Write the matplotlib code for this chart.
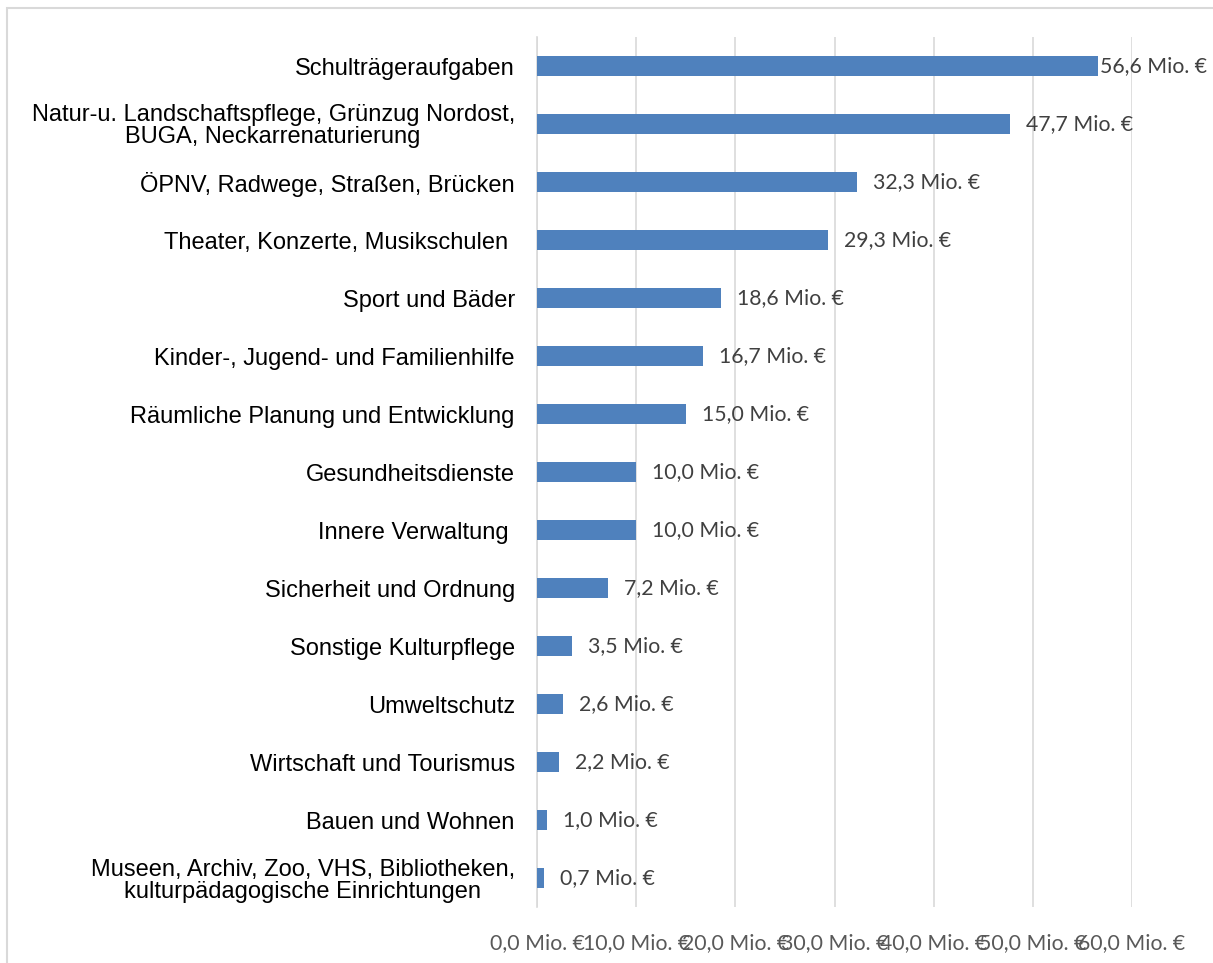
import matplotlib
matplotlib.use("Agg")
import matplotlib.pyplot as plt
from matplotlib.patches import Rectangle

categories = [
    "Schulträgeraufgaben",
    "Natur-u. Landschaftspflege, Grünzug Nordost,\nBUGA, Neckarrenaturierung",
    "ÖPNV, Radwege, Straßen, Brücken",
    "Theater, Konzerte, Musikschulen ",
    "Sport und Bäder",
    "Kinder-, Jugend- und Familienhilfe",
    "Räumliche Planung und Entwicklung",
    "Gesundheitsdienste",
    "Innere Verwaltung ",
    "Sicherheit und Ordnung",
    "Sonstige Kulturpflege",
    "Umweltschutz",
    "Wirtschaft und Tourismus",
    "Bauen und Wohnen",
    "Museen, Archiv, Zoo, VHS, Bibliotheken,\nkulturpädagogische Einrichtungen",
]
values = [56.6, 47.7, 32.3, 29.3, 18.6, 16.7, 15.0, 10.0, 10.0, 7.2, 3.5, 2.6, 2.2, 1.0, 0.7]
x_ticks = [0, 10, 20, 30, 40, 50, 60]

def fmt(v):
    return f"{v:.1f}".replace(".", ",") + " Mio. €"

W, H = 1213, 963
fig = plt.figure(figsize=(W / 100, H / 100), dpi=100)
fig.patch.set_facecolor("white")
fig.add_artist(Rectangle((7 / W, -0.1), 1.2, (1 - 8 / H) + 0.1, transform=fig.transFigure,
                         fill=False, edgecolor="#D9D9D9", linewidth=1.5))

left, right, top, bottom = 537 / W, 1132 / W, 1 - 37 / H, 1 - 907 / H
ax = fig.add_axes([left, bottom, right - left, top - bottom])

y = list(range(len(categories)))
ax.barh(y, values, height=0.35, color="#4F81BD", zorder=3)
ax.set_ylim(len(categories) - 0.5, -0.5)
ax.set_xlim(0, 60)
ax.set_xticks(x_ticks)
ax.set_xticklabels([fmt(t) for t in x_ticks], fontfamily="Lato", fontsize=15.3, color="#595959")
ax.set_yticks(y)
ax.set_yticklabels(categories, fontfamily="Liberation Sans", fontsize=17, color="black",
                   linespacing=1.0, multialignment="center")
ax.tick_params(axis="both", length=0)
ax.tick_params(axis="x", pad=19)
ax.tick_params(axis="y", pad=16)
ax.grid(axis="x", color="#D9D9D9", linewidth=1.2, zorder=0)
for s in ["top", "right", "bottom"]:
    ax.spines[s].set_visible(False)
ax.spines["left"].set_color("#D9D9D9")
ax.spines["left"].set_linewidth(1.2)

for i, v in enumerate(values):
    off = 2 if i == 0 else 16
    ax.annotate(fmt(v), (v, i), xytext=(off * 0.72, 0), textcoords="offset points",
                va="center", ha="left", fontfamily="Lato", fontsize=15.3, color="#404040",
                annotation_clip=False)

fig.savefig("out.png", dpi=100)
